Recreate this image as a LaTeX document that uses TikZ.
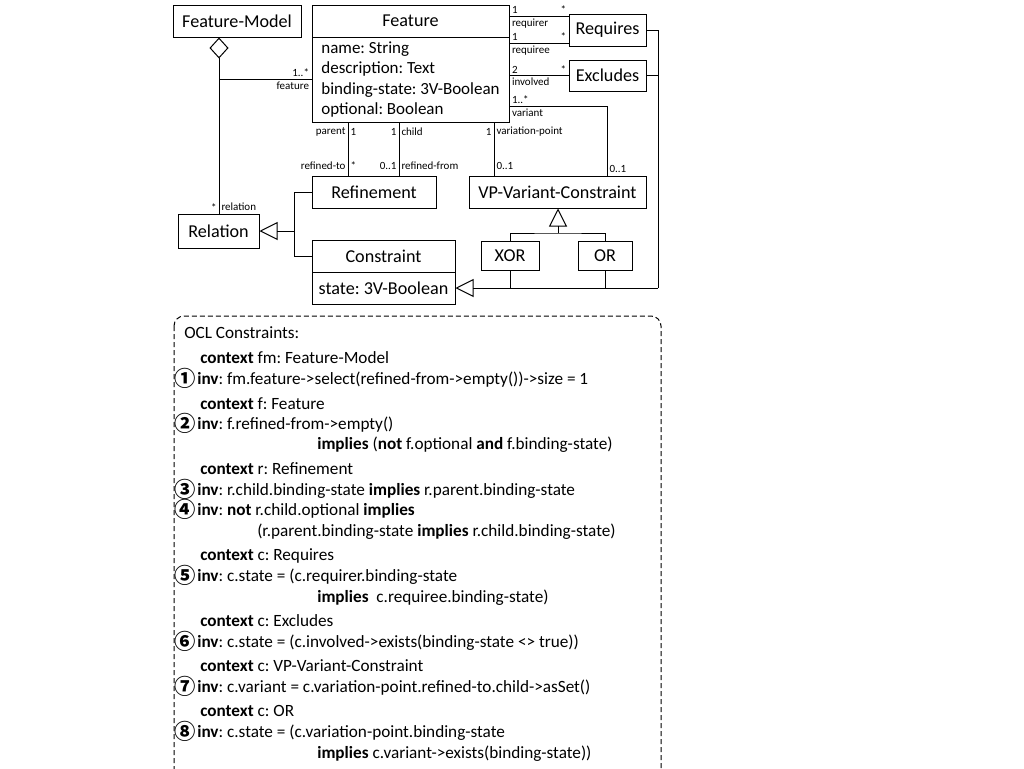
\documentclass[tikz,border=0pt]{standalone}
\usepackage{fontspec}
\setmainfont{Carlito}
\newfontfamily\cjk{Noto Sans CJK JP}
\usetikzlibrary{arrows.meta}
\frenchspacing

\begin{document}
\begin{tikzpicture}[x=0.75pt,y=-0.75pt,
                    class/.style={draw,line width=0.75pt,inner sep=0pt,minimum height=24pt,font=\fontsize{13.6}{16}\selectfont},
                    role/.style={font=\fontsize{8.25}{10}\selectfont,inner sep=1.5pt},
                    assoc/.style={line width=0.75pt},
                    gen/.style={assoc,-{Triangle[open,length=13.5pt,width=13.5pt]}},
                    agg/.style={assoc,-{Diamond[open,length=15.75pt,width=14.25pt]}},
                    ocl box/.style={line width=0.75pt,dashed,dash pattern=on 3.75pt off 2.25pt,rounded corners=7.5pt},
                    ocl line/.style={anchor=base west,inner sep=0pt,font=\fontsize{12.9}{15}\selectfont},
                    num/.style={inner sep=0pt,font=\cjk\bfseries\fontsize{16}{16}\selectfont}]
    \useasboundingbox (0,0) rectangle (1024,768);

    % classes
    \node[class,minimum width=96pt] (fm) at (237,21) {Feature-Model};
    \node[class,minimum width=147.75pt] (feat) at (410.5,21) {Feature};
    \node[class,minimum width=147.75pt,minimum height=63.75pt,align=left,
          font=\fontsize{12.75}{15.2}\selectfont] (featattr) at (410.5,79.5)
          {name: String\\description: Text\\binding-state: 3V-Boolean\\optional: Boolean};
    \node[class,minimum width=57.75pt] (req) at (607.5,30) {Requires};
    \node[class,minimum width=57.75pt,minimum height=23.25pt] (exc) at (607.5,75.5) {Excludes};
    \node[class,minimum width=60.75pt,minimum height=25.5pt] (rel) at (218.5,231) {Relation};
    \node[class,minimum width=93pt] (ref) at (374,192) {Refinement};
    \node[class,minimum width=132.75pt] (vp) at (557.5,192) {VP-Variant-Constraint};
    \node[class,minimum width=43.5pt,minimum height=21.75pt] (xor) at (510,255.5) {XOR};
    \node[class,minimum width=40.5pt,minimum height=21.75pt] (or) at (605,255.5) {OR};
    \node[class,minimum width=107.25pt] (conhead) at (383.5,256) {Constraint};
    \node[class,minimum width=107.25pt] (conattr) at (383.5,288) {state: 3V-Boolean};

    % helper coordinates
    \coordinate (xagg) at (219,0);
    \coordinate (xpar) at (348,0);
    \coordinate (xchi) at (399,0);
    \coordinate (xvp) at (494,0);
    \coordinate (xvar) at (607,0);
    \coordinate (yrq) at (0,16);
    \coordinate (yrd) at (0,43);
    \coordinate (yvar) at (0,106);
    \coordinate (jrel) at (294,231);
    \coordinate (jvp) at (558,233);
    \coordinate (bus) at (658,288);

    % feature model
    \draw[agg] (rel.north -| xagg) -- (fm.south -| xagg)
        node[role,pos=0,above left] {*} node[role,pos=0,above right] {relation};
    \draw[assoc] (xagg |- featattr.west) -- (featattr.west)
        node[role,above left] {1..*} node[role,below left] {feature};

    % refinement
    \draw[assoc] (featattr.south -| xpar) -- (ref.north -| xpar)
        node[role,pos=.18,left] {parent} node[role,pos=.18,right] {1}
        node[role,pos=.82,left] {refined-to} node[role,pos=.82,right] {*};
    \draw[assoc] (featattr.south -| xchi) -- (ref.north -| xchi)
        node[role,pos=.18,left] {1} node[role,pos=.18,right] {child}
        node[role,pos=.82,left] {0..1} node[role,pos=.82,right] {refined-from};

    % variation point and variants
    \draw[assoc] (featattr.south -| xvp) -- (vp.north -| xvp)
        node[role,pos=.18,left] {1} node[role,pos=.18,right] {variation-point}
        node[role,pos=.82,right] {0..1};
    \draw[assoc] (featattr.east |- yvar) -| (vp.north -| xvar)
        node[role,pos=0,above right] {1..*} node[role,pos=0,below right] {variant}
        node[role,above right] {0..1};

    % requires / excludes
    \draw[assoc] (feat.east |- yrq) -- (req.west |- yrq)
        node[role,pos=0,above right] {1} node[role,pos=1,above left] {*}
        node[role,pos=0,below right] {requirer};
    \draw[assoc] (featattr.east |- yrd) -- (req.west |- yrd)
        node[role,pos=0,above right] {1} node[role,pos=1,above left] {*}
        node[role,pos=0,below right] {requiree};
    \draw[assoc] (featattr.east |- exc.west) -- (exc.west)
        node[role,pos=0,above right] {2} node[role,pos=1,above left] {*}
        node[role,pos=0,below right] {involved};

    % generalizations
    \draw[assoc] (ref.west) -| (jrel);
    \draw[assoc] (conhead.west) -| (jrel);
    \draw[gen] (jrel) -- (rel.east);
    \draw[assoc] (xor.north) |- (jvp) -| (or.north);
    \draw[gen] (jvp) -- (vp.south -| jvp);
    \draw[assoc] (req.east) -| (bus);
    \draw[assoc] (exc.east) -- (exc.east -| bus);
    \draw[assoc] (xor.south) -- (xor.south |- bus);
    \draw[assoc] (or.south) -- (or.south |- bus);
    \draw[gen] (bus) -- (conattr.east);

    % OCL constraints
    \draw[ocl box] (174,316) rectangle (661,800);
    \node[ocl line] (title) at (184,338) {OCL Constraints:};
    \node[ocl line] (ctx1) at (200,363) {\textbf{context} fm: Feature-Model};
    \node[num] (n1) at (185,378) {①};
    \node[ocl line] (inv1) at (197,384) {\textbf{inv}: fm.feature->select(refined-from->empty())->size = 1};
    \node[ocl line] (ctx2) at (200,409) {\textbf{context} f: Feature};
    \node[num] (n2) at (185,423) {②};
    \node[ocl line] (inv2) at (197,429) {\textbf{inv}: f.refined-from->empty()};
    \node[ocl line] (inv2b) at (317,449) {\textbf{implies} (\textbf{not} f.optional \textbf{and} f.binding-state)};
    \node[ocl line] (ctx3) at (200,474) {\textbf{context} r: Refinement};
    \node[num] (n3) at (185,489) {③};
    \node[ocl line] (inv3) at (197,495) {\textbf{inv}: r.child.binding-state \textbf{implies} r.parent.binding-state};
    \node[num] (n4) at (185,509) {④};
    \node[ocl line] (inv4) at (197,515) {\textbf{inv}: \textbf{not} r.child.optional \textbf{implies}};
    \node[ocl line] (inv4b) at (257,536) {(r.parent.binding-state \textbf{implies} r.child.binding-state)};
    \node[ocl line] (ctx5) at (200,560) {\textbf{context} c: Requires};
    \node[num] (n5) at (185,575) {⑤};
    \node[ocl line] (inv5) at (197,581) {\textbf{inv}: c.state = (c.requirer.binding-state};
    \node[ocl line] (inv5b) at (317,602) {\textbf{implies}\ \ c.requiree.binding-state)};
    \node[ocl line] (ctx6) at (200,626) {\textbf{context} c: Excludes};
    \node[num] (n6) at (185,641) {⑥};
    \node[ocl line] (inv6) at (197,647) {\textbf{inv}: c.state = (c.involved->exists(binding-state <> true))};
    \node[ocl line] (ctx7) at (200,671) {\textbf{context} c: VP-Variant-Constraint};
    \node[num] (n7) at (185,686) {⑦};
    \node[ocl line] (inv7) at (197,692) {\textbf{inv}: c.variant = c.variation-point.refined-to.child->asSet()};
    \node[ocl line] (ctx8) at (200,716) {\textbf{context} c: OR};
    \node[num] (n8) at (185,731) {⑧};
    \node[ocl line] (inv8) at (197,737) {\textbf{inv}: c.state = (c.variation-point.binding-state};
    \node[ocl line] (inv8b) at (317,758) {\textbf{implies} c.variant->exists(binding-state))};
\end{tikzpicture}
\end{document}
